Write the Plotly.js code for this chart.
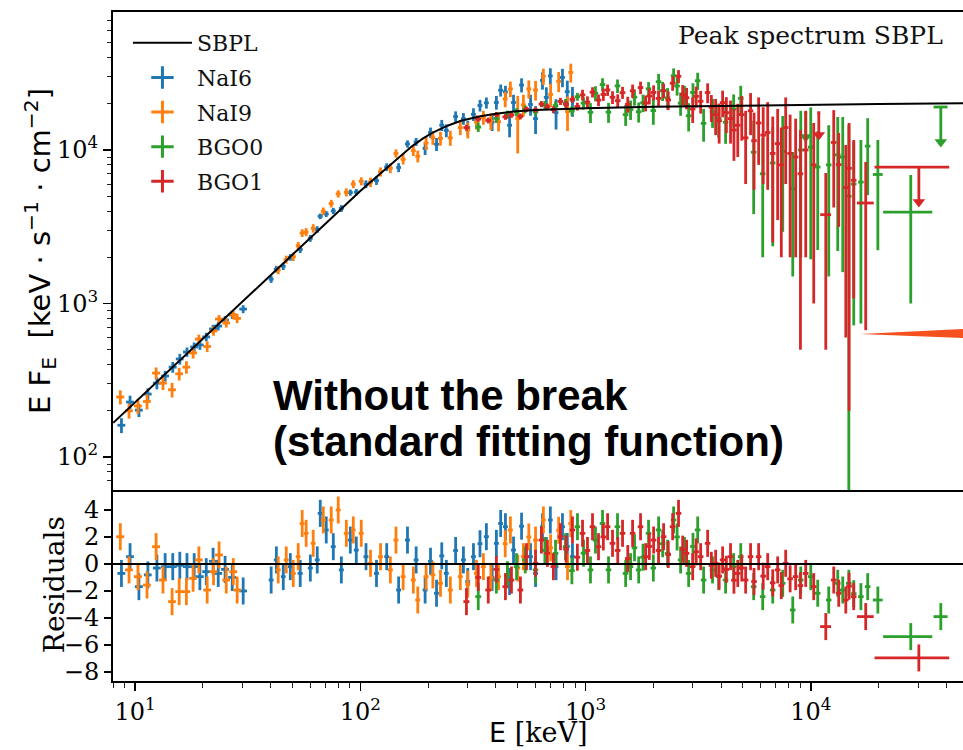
<!DOCTYPE html>
<html><head><meta charset="utf-8">
<script src="https://cdn.plot.ly/plotly-3.0.1.min.js"></script>
<style>html,body{margin:0;padding:0;background:#fff}</style>
</head><body><div id="plot" style="width:963px;height:750px"></div>
<script>
// ---------- SBPL model curve ----------
const modelE=[8,10,15,20,30,40,50,65,85,100,125,150,170,190,210,244,280,341,400,479,600,800,1000,2000,5000,10000,20000,50000];
const modelF=[167,227,395,585,1020,1520,2060,2950,4300,5400,7200,9100,10600,11900,13000,14400,15500,16600,17250,17800,18200,18500,18700,19100,19500,19700,19950,20200];

// ---------- NaI6 ----------
const n6E=[8.7,9.5,10.4,11.4,12.5,13.6,14.7,15.8,17.0,18.3,19.4,20.7,22.2,23.4,25.1,27.0,30.2,
40.2,42.4,45.5,48.9,54.1,60.0,64.4,66.4,70.6,75.9,82.4,90.3,96.0,106,118,131,148,162,177,194,
205,218,230,241,265,287,300,318,340,363,385,402,420,441,460,479,520,570,600,644,670,698,740,790,830,875];
const n6dE=[0.35,0.38,0.42,0.45,0.5,0.55,0.6,0.63,0.68,0.73,0.78,0.83,0.9,0.95,1.0,1.1,1.2,
1.0,1.1,1.1,1.2,1.4,1.5,1.6,1.7,1.8,1.9,2.1,2.3,2.4,2.7,3.0,3.3,3.7,4.1,4.4,4.9,
5.1,5.5,5.8,6.0,6.6,7.2,7.5,8.0,8.5,9.1,9.6,10,10.5,11,11.5,12,13,14,15,16,17,17,18,20,21,22];
const n6F=[161,228,202,257,303,337,385,435,483,521,537,606,682,713,781,845,920,
1440,1675,1745,2000,2250,2660,3035,3700,3830,4010,4160,5280,5320,5990,6320,7740,7690,10950,11300,10240,
13000,10900,14500,13400,16500,16000,14000,17080,19500,20300,15200,20400,24500,23900,14500,20400,26500,19800,16000,28400,22000,30400,17500,29700,24000,21100];
const n6S=[18,23,20,23,27,27,31,35,34,36,38,39,44,46,47,50,55,
77,83,92,100,117,135,150,156,170,190,213,243,253,350,400,450,520,600,670,970,
1000,1060,1200,1290,1350,1400,1500,1620,1700,1690,1900,2080,2200,2290,2400,2490,2800,3080,3300,3660,3600,3680,3900,4070,4300,4650];
const n6R=[-0.7,0.54,-1.68,-0.81,-0.3,-0.2,-0.2,-0.1,-0.2,-0.2,-0.94,-0.57,0.2,-0.7,-0.4,-1.0,-2.0,
-1.19,0.3,-0.94,-0.2,-0.7,-0.3,0.3,3.75,2.52,1.28,-0.44,1.77,1.03,0.54,-0.7,0.54,-1.93,1.77,0.3,-1.93,
0.2,-2.17,0.6,-0.7,1.0,0.3,-1.3,0.54,1.5,2.02,-1.0,1.53,3.0,2.76,-1.3,1.03,2.8,0.54,-0.7,2.76,1.0,3.26,-0.2,2.76,1.3,0.54];

// ---------- NaI9 ----------
const n9E=[8.6,9.4,10.3,11.3,12.4,13.3,14.6,15.7,16.9,18.1,19.2,20.9,22.3,23.6,25.4,27.3,28.4,
43.2,46.9,50.4,53.0,55.2,57.5,61.8,68.5,74.3,79.8,86.7,93.1,101,111,123,136,144,155,172,180,
196,210,227,251,278,300,328,352,380,411,440,464,500,530,560,600,650,700,760,832,860];
const n9dE=[0.35,0.38,0.42,0.45,0.5,0.53,0.58,0.62,0.67,0.72,0.77,0.83,0.9,0.95,1.0,1.1,1.15,
1.1,1.2,1.3,1.3,1.4,1.4,1.5,1.7,1.9,2.0,2.2,2.3,2.5,2.8,3.1,3.4,3.6,3.9,4.3,4.5,
4.9,5.2,5.7,6.3,7.0,7.5,8.2,8.8,9.5,10.3,11,11.6,12.5,13.3,14,15,16,17.5,19,21,21.5];
const n9F=[246,200,215,230,352,303,274,348,385,476,587,525,662,792,747,841,800,
1655,1935,2020,2375,2880,2920,3090,3990,4480,5180,5300,6000,6260,6170,7210,7610,9500,8690,9900,9100,
11100,12000,11900,12000,14000,13500,15200,16300,15400,15300,21500,25000,16000,19700,25000,24600,30200,23000,28000,17800,32000];
const n9S=[26,22,24,26,31,30,30,33,36,38,40,42,45,48,50,52,55,
102,114,127,138,167,176,195,228,255,283,320,357,380,430,490,550,590,650,760,800,
1100,1200,1230,1350,1500,1600,1630,1700,1900,2100,2500,2900,6500,3200,3400,3600,3660,4000,4200,4500,4500];
const n9R=[2.02,-0.44,-0.94,-1.56,1.28,-1.19,-2.79,-2.05,-2.05,-1.06,0.3,-1.93,-0.57,0.67,-1.19,-0.57,-1.93,
-0.44,0.3,-0.7,0.54,3.0,2.27,1.53,3.26,3.26,4.0,2.27,2.52,2.27,0.05,0.54,-0.44,1.77,-0.94,-1.19,-2.67,
-0.94,-0.8,-1.43,-1.93,-0.94,-1.5,-0.7,-0.2,-1.0,-0.94,1.5,2.52,-0.3,0.54,2.0,1.77,3.26,1.2,2.5,-0.2,3.0];

// ---------- BGO0 ----------
const b0E=[334,402,450,494,540,600,660,736,815,870,921,980,1052,1107,1190,1265,1387,1507,1585,1650,
1722,1800,1905,2000,2111,2200,2314,2461,2550,2643,2750,2870,3000,3148,3344,3664,3900,4188,4546,4889,
5580,6120,6780,7510,8320,9030,10000,10740,12020,13180,13870,14760,15520,16700,17900,19860,27800];
const b0dE=[10,12,13,14,16,17,19,21,23,25,26,28,30,32,34,36,40,43,45,47,
49,51,54,57,60,63,66,70,73,75,78,82,85,90,95,104,111,119,130,139,
159,174,193,214,237,257,285,306,340,375,395,420,440,475,510,1000,6850];
const b0F=[14100,16070,17000,17640,18400,17720,19600,19470,20210,18000,22250,20200,17600,23400,26700,17650,26150,17000,18350,22100,
17750,20300,25040,18060,27850,24300,21840,30500,26100,20200,22650,16700,23700,28270,14920,17730,16040,15170,18500,21700,
9670,7000,8230,9790,5600,10000,10440,7740,8000,9300,9000,5000,6000,6180,10600,6925,3935];
const b0S=[990,1040,1050,1070,1080,1090,1280,1290,1300,1300,1300,1880,2600,2630,2630,2630,2640,2650,2650,2660,
2660,2660,2660,3470,3470,3470,3470,3490,3490,3490,3490,3490,3500,3600,3600,3800,4000,4200,4500,4500,
5850,5000,5870,6860,4100,8000,8500,5510,6500,7100,7400,9550,5280,5440,5520,4700,2935];
const b0R=[-2.42,-1.19,-0.8,-0.2,0.3,-0.44,1.0,0.79,1.28,-0.5,2.76,0.8,-0.44,1.77,3.0,-0.44,2.76,-0.7,-0.2,1.2,
-0.44,0.5,2.27,-0.3,2.52,1.5,0.79,3.26,2.0,0.3,1.0,-0.7,1.3,2.52,-1.19,-0.44,-0.94,-1.19,-0.2,0.54,
-1.68,-2.42,-1.93,-1.43,-3.41,-1.19,-0.94,-2.17,-2.67,-1.43,-1.93,-1.43,-2.2,-2.42,-1.68,-2.67,-5.38];
const b0UlE=[9500,37800], b0UlDE=[140,2700], b0UlF=[17500,19060], b0UlTip=[12150,11280], b0UlR=[null,-3.9];

// ---------- BGO1 ----------
const b1E=[296,334,370,402,441,469,514,547,600,637,677,720,774,820,875,920,970,1020,1074,1142,
1200,1253,1318,1390,1460,1540,1618,1755,1849,1920,2006,2110,2222,2330,2437,2588,2700,2810,2991,3100,
3245,3485,3620,3782,3920,4062,4220,4404,4560,4742,4940,5140,5405,5600,5870,6150,6440,6780,7130,7400,
7740,8100,8570,9000,9500,10310,11660,12650,13310,14310,14800,15520,17540];
const b1dE=[9,10,11,12,13,14,15,16,17,18,19,21,22,24,25,27,28,29,31,33,
34,36,38,40,42,44,46,50,53,55,57,60,63,66,70,74,77,80,85,88,
92,99,103,108,112,116,120,126,130,135,141,147,154,160,167,175,184,193,203,211,
220,231,244,256,271,294,650,360,380,408,420,440,1500];
const b1F=[14000,15900,15590,17000,16420,16910,16560,18440,18240,19920,19130,18300,20740,19800,21410,19200,22850,20530,23800,21130,
23000,24600,22050,20950,23650,19850,24300,25500,20240,22460,23700,21700,24400,21150,27250,30200,23000,21900,18500,22350,
20760,23670,19000,17000,15500,20340,17500,16000,13500,14500,17000,12000,18000,11500,15000,12500,13000,9500,11000,8000,
14000,9500,9000,7000,10000,8000,3790,11200,8030,5690,7600,6350,4515];
const b1S=[620,650,680,690,700,710,720,720,730,915,920,920,1110,1110,1115,1120,1830,1830,1830,1840,
2100,2100,2110,2110,2110,2380,2380,2380,2390,2660,2660,2660,2670,2940,2940,2950,3490,3490,3500,3500,
3500,3500,3800,4500,4500,4000,4600,5000,5000,5500,5500,6000,5500,6000,7000,6500,7500,7000,7500,6000,
8000,7500,7000,6500,8000,7000,3290,6980,4875,5090,7400,5270,3845];
const b1R=[-2.79,-1.0,-1.93,-0.4,-1.68,-1.19,-1.93,0.54,0.05,1.77,0.79,-0.2,2.02,1.1,2.52,0.5,2.27,1.0,2.76,1.28,
2.0,2.76,1.53,1.0,2.27,0.4,2.27,2.76,0.54,1.3,1.77,1.0,2.02,0.7,2.76,3.75,1.1,0.79,-0.2,0.9,
0.54,1.53,-0.1,0.05,-0.9,0.3,-0.4,0.54,-1.2,-0.7,-0.3,-1.19,0.54,-1.3,0.54,-0.9,-0.2,-1.4,-0.44,-1.6,
0.05,-1.1,-0.94,-1.6,-0.7,-1.68,-4.64,-1.19,-2.17,-2.67,-1.65,-2.42,-3.9];
const b1UlE=[10860,30200], b1UlDE=[160,11000], b1UlF=[17500,7740], b1UlTip=[12520,4580], b1UlR=[null,-6.96];

// ---------- labels ----------
const detNames=['NaI6','NaI9','BGO0','BGO1'];
const detColors=['#1f77b4','#ff7f0e','#2ca02c','#d62728'];
const xTickVals=[10,100,1000,10000], xTickText=['10<sup>1</sup>','10<sup>2</sup>','10<sup>3</sup>','10<sup>4</sup>'];
const yTickVals=[100,1000,10000], yTickText=['10<sup>2</sup>','10<sup>3</sup>','10<sup>4</sup>'];
const rTickVals=[-8,-6,-4,-2,0,2,4];
const xTitle='<span style="font-family:DejaVu Sans">E</span> [keV]';
const yTopTitle='E F<sub>E</sub>  [keV · s<sup>−1</sup> · cm<sup>−2</sup>]';
const yResTitle='Residuals';

// ---------- build traces ----------
const TH=2.8;
function topTrace(E,dE,F,S,c){
  return {type:'scatter',mode:'markers',x:E,y:F,xaxis:'x2',yaxis:'y2',showlegend:false,hoverinfo:'skip',
    marker:{size:2,color:c},
    error_x:{type:'data',array:dE,visible:true,color:c,thickness:TH,width:0},
    error_y:{type:'data',array:S,visible:true,color:c,thickness:TH,width:0}};
}
function resTrace(E,dE,R,c){
  return {type:'scatter',mode:'markers',x:E,y:R,xaxis:'x',yaxis:'y',showlegend:false,hoverinfo:'skip',
    marker:{size:2,color:c},
    error_x:{type:'data',array:dE,visible:true,color:c,thickness:TH,width:0},
    error_y:{type:'constant',value:1,visible:true,color:c,thickness:TH,width:0}};
}
function ulTraces(E,dE,F,tip,R,c){
  const down=F.map((v,i)=>v-tip[i]);
  return [
    {type:'scatter',mode:'markers',x:E,y:F,xaxis:'x2',yaxis:'y2',showlegend:false,hoverinfo:'skip',
     marker:{size:2,color:c},
     error_x:{type:'data',array:dE,visible:true,color:c,thickness:TH,width:0},
     error_y:{type:'data',symmetric:false,array:E.map(()=>0),arrayminus:down,visible:true,color:c,thickness:TH,width:0}},
    {type:'scatter',mode:'markers',x:E,y:tip,xaxis:'x2',yaxis:'y2',showlegend:false,hoverinfo:'skip',
     marker:{symbol:'triangle-down',size:11,color:c}},
    resTrace(E,dE,R,c)
  ];
}

const traces=[];
traces.push({type:'scatter',mode:'lines',x:[null],y:[null],xaxis:'x2',yaxis:'y2',name:'SBPL',legendgroup:'g0',
  line:{color:'#000',width:2}});
detNames.forEach((n,i)=>traces.push({type:'scatter',mode:'markers',x:[null],y:[null],xaxis:'x2',yaxis:'y2',
  name:n,legendgroup:'g'+(i+1),marker:{symbol:'cross-thin',size:16,color:detColors[i],line:{width:3,color:detColors[i]}}}));

traces.push(topTrace(n6E,n6dE,n6F,n6S,detColors[0]));
traces.push(topTrace(n9E,n9dE,n9F,n9S,detColors[1]));
traces.push(topTrace(b0E,b0dE,b0F,b0S,detColors[2]));
traces.push(...ulTraces(b0UlE,b0UlDE,b0UlF,b0UlTip,b0UlR,detColors[2]));
traces.push(topTrace(b1E,b1dE,b1F,b1S,detColors[3]));
traces.push(...ulTraces(b1UlE,b1UlDE,b1UlF,b1UlTip,b1UlR,detColors[3]));
traces.push(resTrace(n6E,n6dE,n6R,detColors[0]));
traces.push(resTrace(n9E,n9dE,n9R,detColors[1]));
traces.push(resTrace(b0E,b0dE,b0R,detColors[2]));
traces.push(resTrace(b1E,b1dE,b1R,detColors[3]));
traces.push({type:'scatter',mode:'lines',x:modelE,y:modelF,xaxis:'x2',yaxis:'y2',showlegend:false,hoverinfo:'skip',
  line:{color:'#000',width:2}});

// minor tick positions
const minorX=[], minorY=[];
for(let p=0;p<=4;p++) for(let m=2;m<=9;m++){ minorX.push(m*Math.pow(10,p)); }
for(let p=1;p<=4;p++) for(let m=2;m<=9;m++){ minorY.push(m*Math.pow(10,p)); }

const XR=[0.902,4.676];
const split=0.2855;
const serif='DejaVu Serif';
const layout={
  width:963,height:750,margin:{l:113,r:0,t:12,b:69},
  paper_bgcolor:'#fff',plot_bgcolor:'#fff',
  font:{family:serif,size:24,color:'#000'},
  showlegend:true,
  legend:{x:0.0176,xanchor:'left',y:0.985,yanchor:'top',bgcolor:'rgba(0,0,0,0)',borderwidth:0,
    font:{family:serif,size:22,color:'#111'},tracegroupgap:3,itemwidth:59},
  xaxis:{type:'log',range:XR,anchor:'y',tickmode:'array',tickvals:xTickVals,ticktext:xTickText,
    ticks:'outside',ticklen:8,tickwidth:1.5,tickcolor:'#000',
    minor:{ticks:'outside',ticklen:4.5,tickwidth:1,tickcolor:'#222',tickmode:'array',tickvals:minorX},
    showline:true,linewidth:2,linecolor:'#000',mirror:false,showgrid:false,zeroline:false,
    tickfont:{family:serif,size:24}},
  xaxis2:{type:'log',range:XR,anchor:'y2',matches:'x',showticklabels:false,ticks:'',
    showline:true,linewidth:2,linecolor:'#000',mirror:true,showgrid:false,zeroline:false},
  yaxis:{domain:[0,split],range:[-8.67,5.48],anchor:'x',tickmode:'array',tickvals:rTickVals,
    ticks:'outside',ticklen:7,tickwidth:1.5,tickcolor:'#000',
    showline:true,linewidth:2,linecolor:'#000',showgrid:false,zeroline:false,
    tickfont:{family:serif,size:24}},
  yaxis2:{domain:[split,1],type:'log',range:[1.785,4.899],anchor:'x2',tickmode:'array',tickvals:yTickVals,ticktext:yTickText,
    ticks:'outside',ticklen:8,tickwidth:1.5,tickcolor:'#000',
    minor:{ticks:'outside',ticklen:4.5,tickwidth:1,tickcolor:'#222',tickmode:'array',tickvals:minorY},
    showline:true,linewidth:2,linecolor:'#000',showgrid:false,zeroline:false,
    tickfont:{family:serif,size:24}},
  shapes:[
    {type:'line',xref:'paper',x0:0,x1:1,yref:'y',y0:0,y1:0,line:{color:'#000',width:2},layer:'above'},
    {type:'path',xref:'paper',yref:'paper',path:'M 0.8788 0.5187 L 1.0 0.5262 L 1.0 0.5127 Z',
     fillcolor:'#f4511e',line:{width:0},layer:'above'}
  ],
  annotations:[
    {xref:'paper',yref:'paper',x:0.5,y:-0.0777,xanchor:'center',yanchor:'middle',showarrow:false,
     text:xTitle,font:{family:serif,size:27,color:'#000'}},
    {xref:'paper',yref:'paper',x:-0.0859,y:0.6428,xanchor:'center',yanchor:'middle',showarrow:false,textangle:-90,
     text:yTopTitle,font:{family:'DejaVu Sans',size:29,color:'#000'}},
    {xref:'paper',yref:'paper',x:-0.068,y:0.1435,xanchor:'center',yanchor:'middle',showarrow:false,textangle:-90,
     text:yResTitle,font:{family:serif,size:28,color:'#000'}},
    {xref:'paper',yref:'paper',x:0.979,y:0.9656,xanchor:'right',yanchor:'middle',showarrow:false,
     text:'Peak spectrum SBPL',font:{family:serif,size:25,color:'#111'}},
    {xref:'paper',yref:'paper',x:0.186,y:0.4275,xanchor:'left',yanchor:'middle',showarrow:false,
     text:'<b>Without the break</b>',font:{family:'Liberation Sans',size:42,color:'#000'}},
    {xref:'paper',yref:'paper',x:0.186,y:0.3587,xanchor:'left',yanchor:'middle',showarrow:false,
     text:'<b>(standard fitting function)</b>',font:{family:'Liberation Sans',size:42,color:'#000'}}
  ]
};
Plotly.newPlot('plot',traces,layout,{staticPlot:true,displayModeBar:false});
</script></body></html>
